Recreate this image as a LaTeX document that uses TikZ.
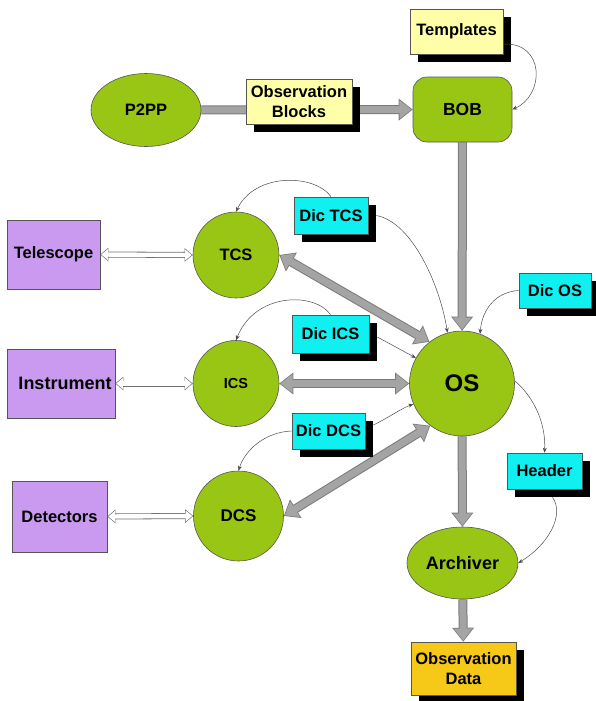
\documentclass[tikz,border=0pt]{standalone}
\usepackage{fontspec}
\setmainfont{Liberation Sans}
\usetikzlibrary{shapes.geometric,arrows.meta,shadows,backgrounds}
\definecolor{grn}{HTML}{99C514}
\definecolor{ylw}{HTML}{FFFFAA}
\definecolor{prp}{HTML}{C99AF0}
\definecolor{cyn}{HTML}{10F0F0}
\definecolor{gld}{HTML}{F6C817}
\definecolor{linec}{HTML}{555555}
\definecolor{agray}{HTML}{A4A4A4}
\definecolor{agrayd}{HTML}{7A7A7A}
\definecolor{hgray}{HTML}{707070}
\tikzset{
  base/.style={draw=linec, line width=0.6pt, inner sep=0pt, align=center,
    font=\fontsize{16.5}{19.5}\selectfont\bfseries},
  ell/.style={base, ellipse, fill=grn},
  circ/.style={base, circle, fill=grn},
  shad/.style={general shadow={fill=black, shadow xshift=8pt, shadow yshift=-8pt}},
  ybox/.style={base, rectangle, fill=ylw, shad},
  cbox/.style={base, rectangle, fill=cyn, shad},
  pbox/.style={base, rectangle, fill=prp},
  bigoe/.style={line width=9pt, draw=agrayd, -{Triangle[width=21pt,length=14pt]}},
  bigie/.style={line width=7pt, draw=agray, -{Triangle[width=18pt,length=12pt]}, shorten >=1.2pt},
  bigob/.style={line width=9pt, draw=agrayd, {Triangle[width=21pt,length=14pt]}-{Triangle[width=21pt,length=14pt]}},
  bigib/.style={line width=7pt, draw=agray, {Triangle[width=18pt,length=12pt]}-{Triangle[width=18pt,length=12pt]}, shorten >=1.2pt, shorten <=1.2pt},
  holo/.style={line width=6pt, draw=hgray, {Triangle[width=13pt,length=8pt]}-{Triangle[width=13pt,length=8pt]}},
  holi/.style={line width=4.4pt, draw=white, {Triangle[width=10.5pt,length=6.5pt]}-{Triangle[width=10.5pt,length=6.5pt]}, shorten >=1pt, shorten <=1pt},
  thinarr/.style={draw=black!70, line width=0.5pt, -{Stealth[length=5pt,width=4pt]}},
}
\begin{document}
\begin{tikzpicture}[x=1pt,y=-1pt]
\useasboundingbox (0,0) rectangle (595,701);
% nodes
\node[ell, minimum width=110pt, minimum height=73pt] (p2pp) at (146,110) {P2PP};
\node[ybox, minimum width=106pt, minimum height=45pt] (ob) at (299,101.5) {Observation\\Blocks};
\node[base, rectangle, rounded corners=14pt, fill=grn, minimum width=99pt, minimum height=65pt,
  font=\fontsize{17.5}{20}\selectfont\bfseries] (bob) at (462.5,109.5) {BOB};
\node[ybox, minimum width=93pt, minimum height=45pt] (templates) at (456.5,31.5) {Templates};
\node[pbox, minimum width=93pt, minimum height=69pt] (telescope) at (53.5,254.5) {Telescope};
\node[circ, minimum size=86pt] (tcs) at (236,255) {TCS};
\node[pbox, minimum width=108pt, minimum height=69pt] (instrument) at (61,383.5) {};
\node[font=\fontsize{18}{20}\selectfont\bfseries] (insttext) at (65,383.5) {Instrument};
\node[circ, minimum size=86pt, font=\fontsize{14.5}{17}\selectfont\bfseries] (ics) at (236,383.5) {ICS};
\node[pbox, minimum width=95pt, minimum height=71pt] (detectors) at (59.5,516.5) {Detectors};
\node[circ, minimum size=90pt, font=\fontsize{17}{20}\selectfont\bfseries] (dcs) at (238.5,516) {DCS};
\node[circ, minimum size=105pt, font=\fontsize{24}{28}\selectfont\bfseries] (os) at (462,383.5) {OS};
\node[cbox, minimum width=74pt, minimum height=37pt] (dictcs) at (331,215.5) {Dic TCS};
\node[cbox, minimum width=77pt, minimum height=38pt] (dicics) at (330.5,334) {Dic ICS};
\node[cbox, minimum width=72pt, minimum height=35pt] (dicos) at (555,290.5) {Dic OS};
\node[cbox, minimum width=73pt, minimum height=36pt] (dicdcs) at (328.5,431) {Dic DCS};
\node[cbox, minimum width=75pt, minimum height=36pt] (header) at (544.5,471) {Header};
\node[ell, minimum width=111pt, minimum height=72pt, font=\fontsize{18}{20}\selectfont\bfseries] (archiver) at (462.5,563) {Archiver};
\node[base, rectangle, fill=gld, shad, minimum width=105pt, minimum height=53pt] (obsdata) at (463.5,668.5) {Observation\\Data};
% thick arrows
\begin{scope}[on background layer]
\draw[bigoe] (p2pp) -- (bob);
\draw[bigie] (p2pp) -- (bob);
\draw[bigoe] (bob) -- (os);
\draw[bigie] (bob) -- (os);
\draw[bigoe] (os) -- (archiver);
\draw[bigie] (os) -- (archiver);
\draw[bigoe] (archiver) -- (obsdata);
\draw[bigie] (archiver) -- (obsdata);
\draw[bigob] (tcs.east) -- (os.128);
\draw[bigib] (tcs.east) -- (os.128);
\draw[bigob] (ics.east) -- (os.west);
\draw[bigib] (ics.east) -- (os.west);
\draw[bigob] (dcs.east) -- (os.233);
\draw[bigib] (dcs.east) -- (os.233);
\draw[holo] (telescope.east) -- (tcs.west);
\draw[holi] (telescope.east) -- (tcs.west);
\draw[holo] (instrument.east) -- (ics.west);
\draw[holi] (instrument.east) -- (ics.west);
\draw[holo] (detectors.east) -- (dcs.west);
\draw[holi] (detectors.east) -- (dcs.west);
\end{scope}
% thin curved arrows
\draw[thinarr] (templates.-15) .. controls (545,42) and (545,95) .. (bob.east);
\draw[thinarr] (dictcs.north) .. controls (315,174) and (255,172) .. (tcs.north);
\draw[thinarr] ([xshift=8pt]dictcs.east) .. controls (412,222) and (440,285) .. (os.106);
\draw[thinarr] (dicics.north) .. controls (315,292) and (255,292) .. (ics.north);
\draw[thinarr] ([xshift=8pt,yshift=-3pt]dicics.east) .. controls (392,345) and (405,352) .. (os.151);
\draw[thinarr] (dicdcs.west) .. controls (265,432) and (245,450) .. (dcs.north);
\draw[thinarr] ([xshift=8pt,yshift=6pt]dicdcs.east) .. controls (388,418) and (402,408) .. (os.203);
\draw[thinarr] (dicos.west) .. controls (495,292) and (482,310) .. (os.70);
\draw[thinarr] (os.3) .. controls (535,398) and (546,425) .. (header.north);
\draw[thinarr] ([xshift=8pt,yshift=-8pt]header.south) .. controls (565,515) and (548,545) .. (archiver.east);
\end{tikzpicture}
\end{document}
